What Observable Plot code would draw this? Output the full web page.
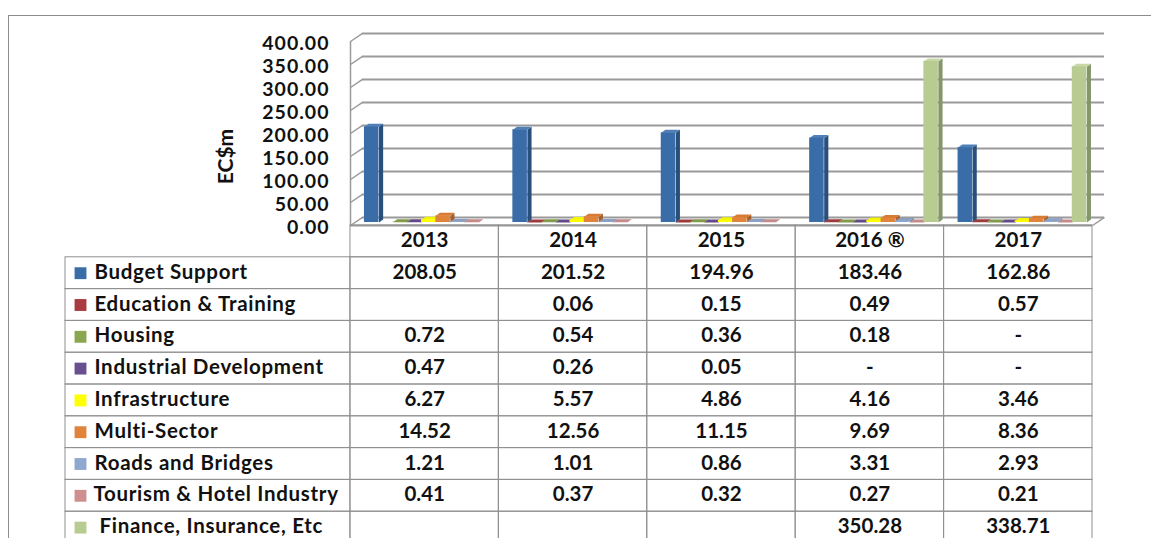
<!DOCTYPE html>
<html><head><meta charset="utf-8">
<script src="https://cdn.jsdelivr.net/npm/d3@7"></script>
<script src="https://cdn.jsdelivr.net/npm/@observablehq/plot@0.6"></script>
<style>
html,body{margin:0;padding:0;width:1151px;height:538px;overflow:hidden;background:#fff}
#frame{position:absolute;left:8px;top:15px;width:1143px;height:523px;border-top:1.5px solid #8c8c8c;border-left:1.5px solid #8c8c8c;box-sizing:border-box}
#chart,#table{position:absolute;left:0}
#chart{top:0}#table{top:224px}
svg{display:block;background:transparent!important}
#chart g[aria-label="y-axis tick label"]{letter-spacing:1px}
#table g[text-anchor="start"]{letter-spacing:.7px}
</style></head><body>
<div id="frame"></div><div id="chart"></div><div id="table"></div>
<script>
const years = ["2013","2014","2015","2016 ®","2017"];
const series = ["Budget Support","Education & Training","Housing","Industrial Development","Infrastructure","Multi-Sector","Roads and Bridges","Tourism & Hotel Industry","Finance, Insurance, Etc"];
const budget = [208.05,201.52,194.96,183.46,162.86];
const education = [null,0.06,0.15,0.49,0.57];
const housing = [0.72,0.54,0.36,0.18,0];
const industrial = [0.47,0.26,0.05,0,0];
const infrastructure = [6.27,5.57,4.86,4.16,3.46];
const multiSector = [14.52,12.56,11.15,9.69,8.36];
const roads = [1.21,1.01,0.86,3.31,2.93];
const tourism = [0.41,0.37,0.32,0.27,0.21];
const finance = [null,null,null,350.28,338.71];
const yTicks = [0,50,100,150,200,250,300,350,400];
const frontColors = ["#3a6da8","#a83a40","#8aa650","#6a4f90","#ffff00","#e0843c","#8fa8cf","#cf8f8f","#b8cc92"];
const sideColors  = ["#294f7d","#7a2a2e","#647a3a","#4c3868","#c8c800","#a86028","#6a7f9e","#9e6a6a","#84966a"];
const topColors   = ["#4f80b8","#9c3a3e","#7f9a4a","#64498a","#f4f400","#d67a34","#8a9fc2","#c48a8a","#c8d8a8"];
const allValues = [budget,education,housing,industrial,infrastructure,multiSector,roads,tourism,finance];

const font = "Lato";
// bar layout in group units (one year = 1 on the x scale)
const barStart = 0.094, barStep = 0.0962, barW = 0.098;
const depthBarX = 0.028, depthBarY = 6.5;
const depthX = 0.081, depthY = 17.4;

const rows = allValues.flatMap((vals,s)=>vals.map((v,i)=>({s,i,v,
  x1:i+barStart+s*barStep, x2:i+barStart+s*barStep+barW}))).filter(d=>d.v!==null);
const face = (d,k)=> k==="side"
  ? [[d.x2,0],[d.x2+depthBarX,depthBarY],[d.x2+depthBarX,d.v+depthBarY],[d.x2,d.v]]
  : [[d.x1,d.v],[d.x1+depthBarX,d.v+depthBarY],[d.x2+depthBarX,d.v+depthBarY],[d.x2,d.v]];
const facePts = (s,k)=>rows.filter(d=>d.s===s).flatMap((d,n)=>face(d,k).map(p=>({x:p[0],y:p[1],id:n})));
const barLift = -3;

const chart = Plot.plot({
  width:1151,height:238,marginLeft:350,marginRight:59,marginTop:41,marginBottom:13,
  style:{fontFamily:font,fontWeight:"bold",background:"transparent",color:"#111"},
  x:{domain:[0,5],axis:null},
  y:{domain:[0,400],label:null},
  color:{domain:series,range:frontColors},
  marks:[
    Plot.ruleY(yTicks,{x1:0,x2:5,dx:12,dy:-8,stroke:"#9a9a9a",strokeWidth:2}),
    Plot.link(yTicks,{x1:0,x2:depthX,y1:d=>d,y2:d=>d+depthY,stroke:"#9a9a9a",strokeWidth:1.5}),
    Plot.ruleX([0],{y1:0,y2:400,stroke:"#9a9a9a",strokeWidth:1.5}),
    Plot.link([0],{x1:5,x2:5+depthX,y1:0,y2:depthY,stroke:"#9a9a9a",strokeWidth:1.5}),
    ...series.flatMap((_,s)=>[
      Plot.line(facePts(s,"side"),{x:"x",y:"y",z:"id",fill:sideColors[s],stroke:"none",dy:barLift}),
      Plot.line(facePts(s,"top"),{x:"x",y:"y",z:"id",fill:topColors[s],stroke:"none",dy:barLift})
    ]),
    Plot.rectY(rows,{x1:"x1",x2:"x2",y1:0,y2:"v",fill:d=>series[d.s],dy:barLift}),
    Plot.ruleY([0],{x1:0,x2:5,stroke:"#9a9a9a",strokeWidth:2}),
    Plot.axisY({ticks:yTicks,tickFormat:".2f",tickSize:0,tickPadding:21,fontSize:19.5,dy:2,label:null}),
    Plot.text(["EC$m"],{frameAnchor:"left",textAnchor:"middle",y:()=>150,rotate:-90,dx:-124,fontSize:21})
  ]
});
document.getElementById("chart").append(chart);

const labelCol = -1.92;
const nRows = series.length+1;
const headerCells = years.map((t,i)=>({t,i,r:0}));
const bodyCells = allValues.flatMap((vals,s)=>vals.map((v,i)=>({i,r:s+1,
  t:v===null?"":(v===0?"-":v.toFixed(2))})));
const labelRows = series.map((t,s)=>({t,s,r:s+1}));
const labelIndent = {"Finance, Insurance, Etc":34,"Tourism & Hotel Industry":28};

const table = Plot.plot({
  width:1151,height:314,marginLeft:65,marginRight:59,marginTop:1,marginBottom:0,
  style:{fontFamily:font,fontWeight:"bold",background:"transparent",color:"#111"},
  x:{domain:[labelCol,5],axis:null},
  y:{domain:[0,nRows],range:[1,1+nRows*31.8],axis:null},
  color:{domain:series,range:frontColors},
  marks:[
    Plot.rect([...headerCells,...bodyCells],{x1:"i",x2:d=>d.i+1,y1:"r",y2:d=>d.r+1,stroke:"#8f8f8f",strokeWidth:1,fill:"none"}),
    Plot.rect(labelRows,{x1:labelCol,x2:0,y1:"r",y2:d=>d.r+1,stroke:"#8f8f8f",strokeWidth:1,fill:"none"}),
    Plot.dot(labelRows,{x:()=>labelCol,y:d=>d.r+0.5,symbol:"square",r:6.7,fill:d=>d.t,dx:15}),
    ...labelRows.map(d=>Plot.text([d],{x:()=>labelCol,y:r=>r.r+0.5,text:"t",textAnchor:"start",dx:labelIndent[d.t]??29,dy:-1,fontSize:20.5})),
    Plot.text([...headerCells,...bodyCells],{x:d=>d.i+0.5,y:d=>d.r+0.5,text:"t",dy:-1,fontSize:20.5})
  ]
});
document.getElementById("table").append(table);
</script>
</body></html>
